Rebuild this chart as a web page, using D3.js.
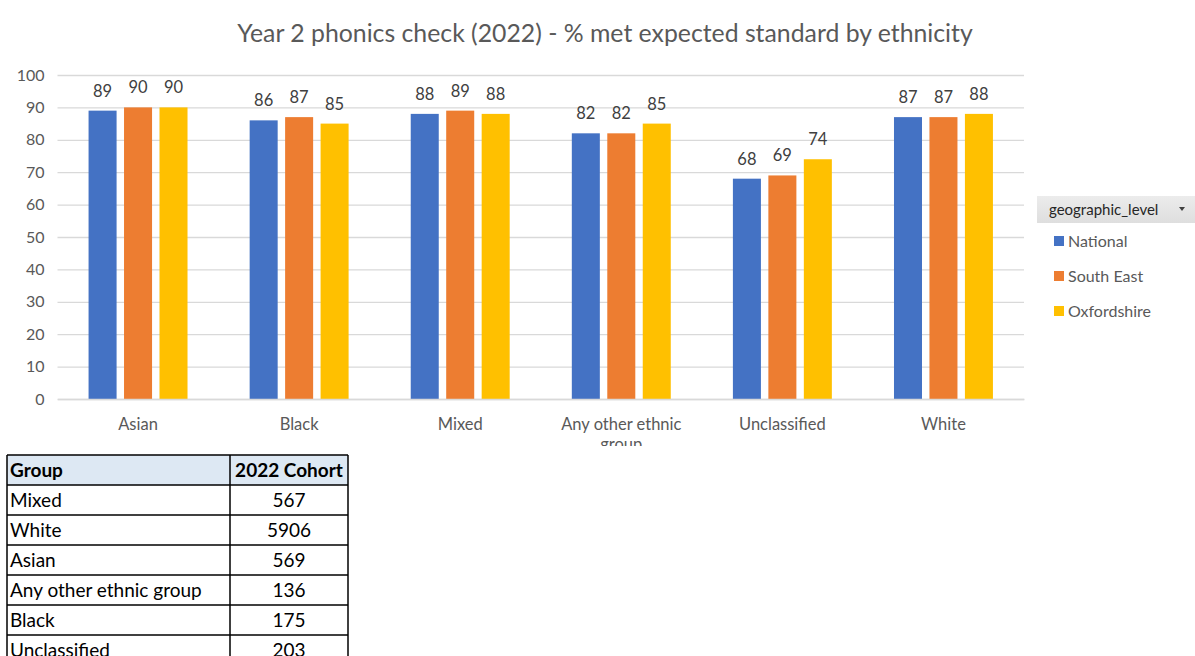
<!DOCTYPE html>
<html><head><meta charset="utf-8">
<script src="https://cdn.jsdelivr.net/npm/d3@7"></script>
<style>body{margin:0;background:#fff;}svg{display:block;font-family:Lato,"Open Sans",sans-serif;}</style>
</head><body>
<svg id="c" width="1195" height="656"></svg>
<script>
const categories = ["Asian","Black","Mixed","Any other ethnic group","Unclassified","White"];
const seriesNames = ["National","South East","Oxfordshire"];
const national = [89,86,88,82,68,87];
const southEast = [90,87,89,82,69,87];
const oxfordshire = [90,85,88,85,74,88];
const colors = ["#4472c4","#ed7d31","#ffc000"];
const yTicks = [0,10,20,30,40,50,60,70,80,90,100];
const tableGroups = ["Mixed","White","Asian","Any other ethnic group","Black","Unclassified"];
const tableCohort = [567,5906,569,136,175,203];
const title = "Year 2 phonics check (2022) - % met expected standard by ethnicity";
const legendTitle = "geographic_level";

const series = [national, southEast, oxfordshire];
const svg = d3.select("#c");
const x = d3.scaleBand().domain(categories).range([57.5,1024]).paddingInner(0).paddingOuter(0);
const y = d3.scaleLinear().domain([0,100]).range([399,75]);
const xs = d3.scaleBand().domain(seriesNames).range([0,x.bandwidth()]).paddingInner(0.21).paddingOuter(0.876);

svg.append("defs").append("clipPath").attr("id","clip").append("rect").attr("x",0).attr("y",0).attr("width",1195).attr("height",446);
const chart = svg.append("g").attr("clip-path","url(#clip)");

chart.append("text").attr("x",605).attr("y",42).attr("text-anchor","middle")
  .attr("font-size",24.8).attr("fill","#595959").text(title);

// gridlines
const yAxis = chart.append("g").attr("transform","translate(57.5,0)")
  .call(d3.axisLeft(y).tickValues(yTicks).tickSize(-(1024-57.5)).tickPadding(13));
yAxis.select(".domain").remove();
yAxis.selectAll("line").attr("stroke","#d9d9d9").attr("stroke-width",1.3);
yAxis.selectAll("text").attr("font-size",16).attr("fill","#595959").attr("font-family","Lato,sans-serif");

// bars
const groups = chart.selectAll("g.cat").data(categories).join("g").attr("class","cat")
  .attr("transform",d=>`translate(${x(d)},0)`);
seriesNames.forEach((s,si)=>{
  groups.append("rect")
    .attr("x",xs(s)).attr("width",xs.bandwidth())
    .attr("y",(d,i)=>y(series[si][i])).attr("height",(d,i)=>y(0)-y(series[si][i]))
    .attr("fill",colors[si]);
  groups.append("text")
    .attr("x",xs(s)+xs.bandwidth()/2).attr("y",(d,i)=>y(series[si][i])-14)
    .attr("text-anchor","middle").attr("font-size",16.5).attr("fill","#404040")
    .text((d,i)=>series[si][i]);
});

// x axis
const xAxis = chart.append("g").attr("transform","translate(0,399)")
  .call(d3.axisBottom(x).tickSize(0).tickPadding(19));
xAxis.select(".domain").attr("stroke","#d9d9d9").attr("stroke-width",1.3);
xAxis.selectAll("text").attr("font-size",16.5).attr("fill","#595959").attr("font-family","Lato,sans-serif")
  .each(function(d){
    if(d.length>16){
      const t=d3.select(this); t.text(null);
      t.append("tspan").attr("x",0).text("Any other ethnic");
      t.append("tspan").attr("x",0).attr("dy","1.2em").text("group");
    }
  });

// legend
const lg = chart.append("g");
const grad = svg.select("defs").append("linearGradient").attr("id","lgrad").attr("x1",0).attr("x2",0).attr("y1",0).attr("y2",1);
grad.append("stop").attr("offset","0%").attr("stop-color","#ececec");
grad.append("stop").attr("offset","100%").attr("stop-color","#dedede");
lg.append("rect").attr("x",1037).attr("y",196).attr("width",158).attr("height",27).attr("fill","url(#lgrad)");
lg.append("text").attr("x",1049).attr("y",215).attr("font-size",15).attr("fill","#262626").text(legendTitle);
lg.append("path").attr("d","M1179,207 L1185,207 L1182,211 Z").attr("fill","#404040");
seriesNames.forEach((s,i)=>{
  const yy = 241 + i*35;
  lg.append("rect").attr("x",1054).attr("y",yy-5).attr("width",10).attr("height",10).attr("fill",colors[i]);
  lg.append("text").attr("x",1068).attr("y",yy+6).attr("font-size",16).attr("fill","#595959").text(s);
});

// table
const tb = svg.append("g").attr("font-family","Lato,sans-serif");
const tx0=7, tx1=230, tx2=348, ty0=455, rh=30;
tb.append("rect").attr("x",tx0).attr("y",ty0).attr("width",tx2-tx0).attr("height",rh).attr("fill","#dde8f3");
tb.append("text").attr("x",tx0+3).attr("y",ty0+22).attr("font-size",19).attr("font-weight","bold").attr("fill","#000").text("Group");
tb.append("text").attr("x",(tx1+tx2)/2).attr("y",ty0+22).attr("text-anchor","middle").attr("font-size",19).attr("font-weight","bold").attr("fill","#000").text("2022 Cohort");
tableGroups.forEach((g,i)=>{
  const yy = ty0 + rh*(i+1);
  tb.append("text").attr("x",tx0+3).attr("y",yy+22).attr("font-size",19).attr("fill","#000").text(g);
  tb.append("text").attr("x",(tx1+tx2)/2).attr("y",yy+22).attr("text-anchor","middle").attr("font-size",19).attr("fill","#000").text(tableCohort[i]);
});
const nrows = tableGroups.length+1;
for(let i=0;i<=nrows;i++){
  tb.append("line").attr("x1",tx0).attr("x2",tx2).attr("y1",ty0+i*rh).attr("y2",ty0+i*rh).attr("stroke","#000").attr("stroke-width",1.5);
}
[tx0,tx1,tx2].forEach(xx=>tb.append("line").attr("x1",xx).attr("x2",xx).attr("y1",ty0).attr("y2",ty0+nrows*rh).attr("stroke","#000").attr("stroke-width",1.5));
</script>
</body></html>
